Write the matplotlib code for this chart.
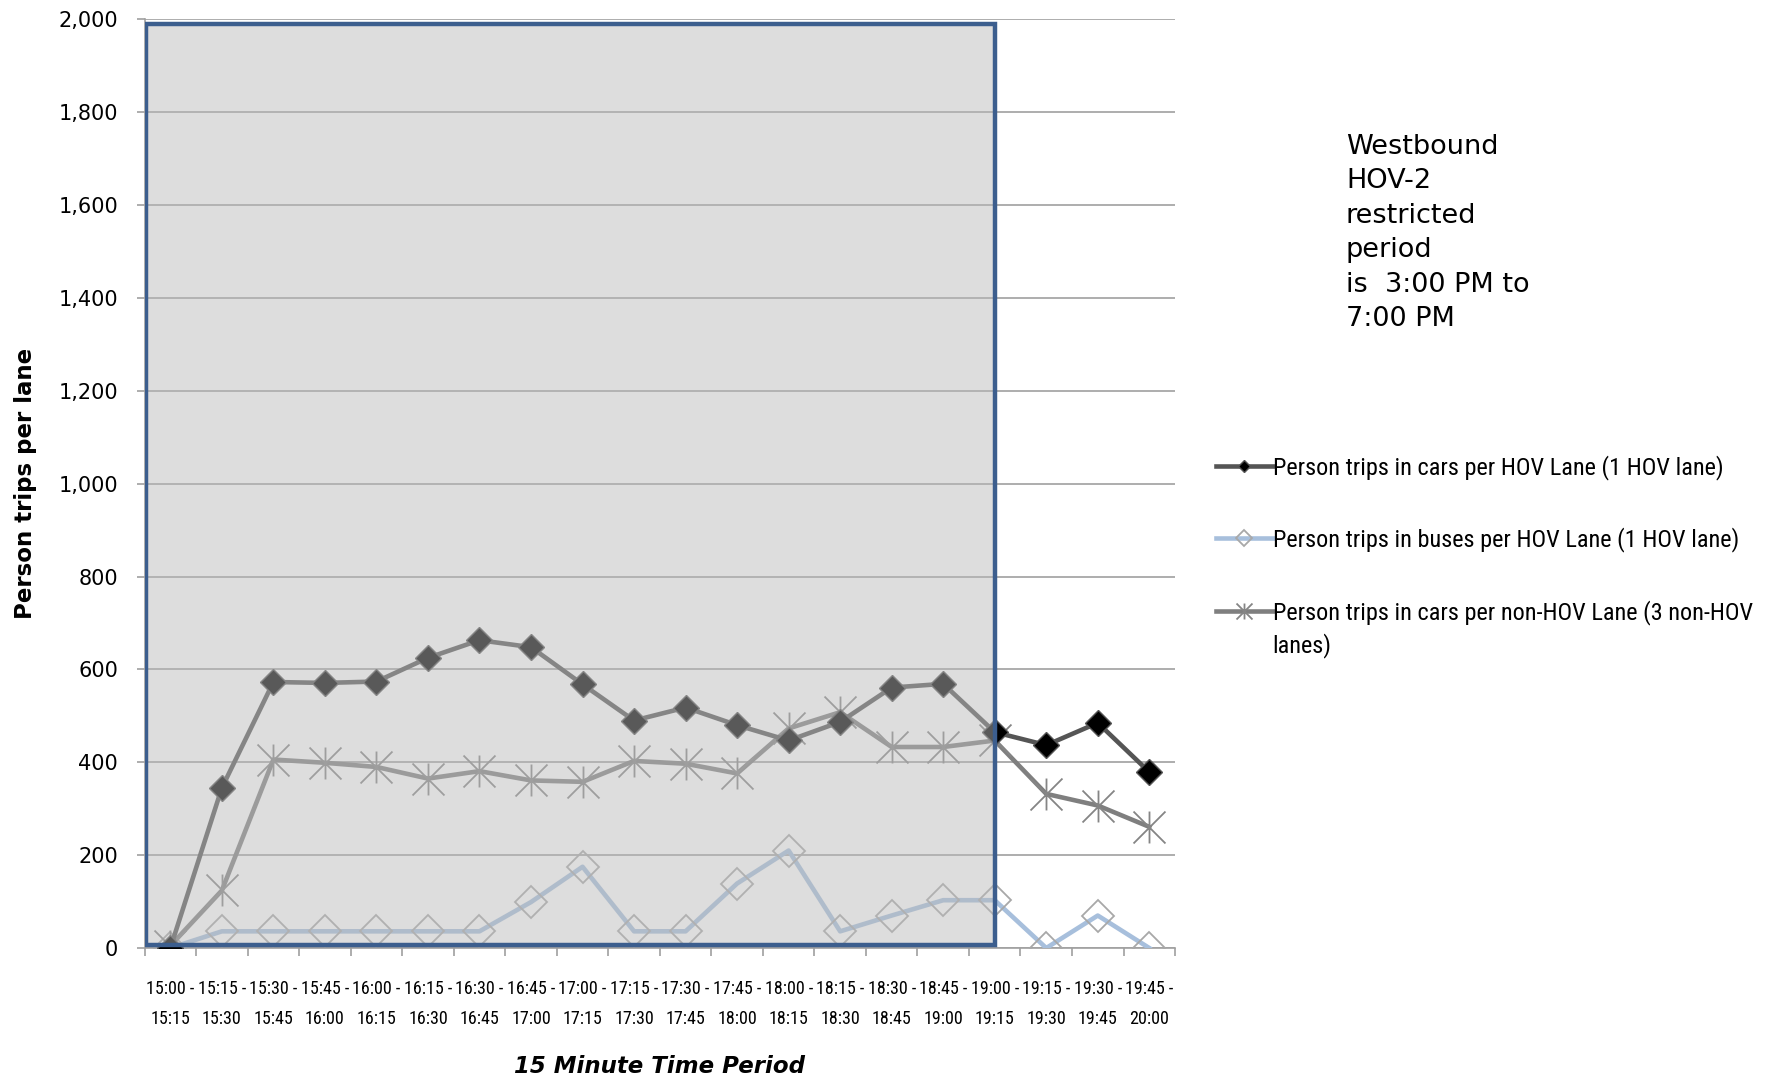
import matplotlib.pyplot as plt
from matplotlib.path import Path
from matplotlib.patches import Rectangle
from matplotlib.ticker import FixedLocator, MultipleLocator
from matplotlib import font_manager

# Data (person trips per lane, 15 minute periods)
period_starts = ["15:00", "15:15", "15:30", "15:45", "16:00", "16:15", "16:30",
                 "16:45", "17:00", "17:15", "17:30", "17:45", "18:00", "18:15",
                 "18:30", "18:45", "19:00", "19:15", "19:30", "19:45"]
period_ends = ["15:15", "15:30", "15:45", "16:00", "16:15", "16:30", "16:45",
               "17:00", "17:15", "17:30", "17:45", "18:00", "18:15", "18:30",
               "18:45", "19:00", "19:15", "19:30", "19:45", "20:00"]
hov_cars = [0, 345, 573, 571, 574, 625, 663, 648, 568, 490, 518,
            480, 447, 487, 561, 569, 465, 437, 485, 379]
hov_buses = [0, 36, 36, 36, 36, 36, 36, 99, 175, 36, 36,
             139, 210, 36, 70, 103, 103, 0, 70, 0]
non_hov_cars = [5, 124, 406, 399, 390, 365, 381, 361, 358, 403, 397,
                376, 473, 508, 433, 433, 447, 332, 307, 261]
restricted_end = "19:00"

series_labels = [
    "Person trips in cars per HOV Lane (1 HOV lane)",
    "Person trips in buses per HOV Lane (1 HOV lane)",
    "Person trips in cars per non-HOV Lane (3 non-HOV",
]
label_wrap = "lanes)"  # second line of the last legend entry

# Narrow face for ticks / legend, whatever is installed
available = {f.name for f in font_manager.fontManager.ttflist}
narrow_family = [f for f in ["Roboto Condensed", "Liberation Sans Narrow",
                             "Open Sans Condensed", "Roboto"] if f in available]
narrow_family.append("DejaVu Sans")
condensed = narrow_family[0] in ("Roboto Condensed", "Liberation Sans Narrow",
                                 "Open Sans Condensed")
tick_size = 13 if condensed else 11
legend_size = 17.5 if condensed else 14

# Excel style asterisk marker: vertical bar plus an X
asterisk = Path(
    [(0, -1), (0, 1), (-1, -1), (1, 1), (-1, 1), (1, -1)],
    [Path.MOVETO, Path.LINETO, Path.MOVETO, Path.LINETO, Path.MOVETO, Path.LINETO],
)

fig = plt.figure(figsize=(17.85, 10.81), dpi=100)
ax = fig.add_axes([0.081, 0.123, 0.5773, 0.859])

x = list(range(len(period_starts)))
ax.plot(x, hov_cars, color="#555555", linewidth=3.3, marker="D", markersize=13,
        markerfacecolor="black", markeredgecolor="#555555", markeredgewidth=1.0,
        label=series_labels[0], zorder=4)
ax.plot(x, hov_buses, color="#a7bfdc", linewidth=3.3, marker="D", markersize=16,
        markerfacecolor="none", markeredgecolor="#a8a8a8", markeredgewidth=1.3,
        label=series_labels[1], zorder=3)
ax.plot(x, non_hov_cars, color="#7f7f7f", linewidth=3.3, marker=asterisk, markersize=23,
        markerfacecolor="none", markeredgecolor="#858585", markeredgewidth=1.3,
        label=series_labels[2], zorder=3)

# Shaded HOV-2 restricted period drawn over the series
x_end = period_starts.index(restricted_end)
ax.add_patch(Rectangle((-0.47, 6), x_end + 0.47, 1984, facecolor=(185 / 255,) * 3,
                       alpha=0.486, edgecolor="none", zorder=5))
ax.add_patch(Rectangle((-0.47, 6), x_end + 0.47, 1984, facecolor="none",
                       edgecolor="#3c5e8e", linewidth=3.2, zorder=6))

ax.set_xlim(-0.5, len(x) - 0.5)
ax.set_ylim(0, 2000)
ax.yaxis.set_major_locator(MultipleLocator(200))
ax.yaxis.set_major_formatter(plt.FuncFormatter(lambda v, p: f"{int(v):,}"))
ax.grid(axis="y", color="#a0a0a0", linewidth=1.2, zorder=0)
ax.set_axisbelow(True)

ax.set_xticks(x)
ax.set_xticklabels([f"{a} -\n{b}" for a, b in zip(period_starts, period_ends)],
                   family=narrow_family, fontsize=tick_size, linespacing=1.85)
ax.xaxis.set_minor_locator(FixedLocator([i + 0.5 for i in x[:-1]] + [-0.5, len(x) - 0.5]))
ax.tick_params(axis="x", which="major", length=0, pad=23)
ax.tick_params(axis="x", which="minor", length=6, color="#a0a0a0", width=1.2)
ax.tick_params(axis="y", length=6, color="#a0a0a0", width=1.2, labelsize=15, pad=13)

for side in ["top", "right"]:
    ax.spines[side].set_visible(False)
for side in ["left", "bottom"]:
    ax.spines[side].set_color("#a0a0a0")
    ax.spines[side].set_linewidth(1.2)

ax.set_ylabel("Person trips per lane", fontsize=16.5, fontweight="bold")
ax.yaxis.set_label_coords(-0.104, 0.5)
ax.set_xlabel("15 Minute Time Period", fontsize=16.5, fontweight="bold", style="italic")
ax.xaxis.set_label_coords(0.5, -0.128)
ax.xaxis.label.set_va("center")

fig.text(0.754, 0.876,
         "Westbound\nHOV-2\nrestricted\nperiod\nis  3:00 PM to\n7:00 PM",
         fontsize=19.5, va="top", ha="left", linespacing=1.42)

leg = ax.legend(loc="upper left", bbox_to_anchor=(0.681, 0.579),
                bbox_transform=fig.transFigure, frameon=False, markerscale=0.5,
                prop={"family": narrow_family, "size": legend_size}, handlelength=2.35,
                handletextpad=0.0, labelspacing=1.95, borderpad=0, borderaxespad=0)

# wrapped remainder of the last legend label, hung under its first line
# (zorder above the legend so the legend text is placed before this is drawn)
ax.annotate(label_wrap, xy=(0, 0), xycoords=leg.get_texts()[2],
            xytext=(0, -8), textcoords="offset pixels", va="top", ha="left",
            family=narrow_family, fontsize=legend_size, zorder=10,
            annotation_clip=False)

fig.savefig("out.png", dpi=100)
